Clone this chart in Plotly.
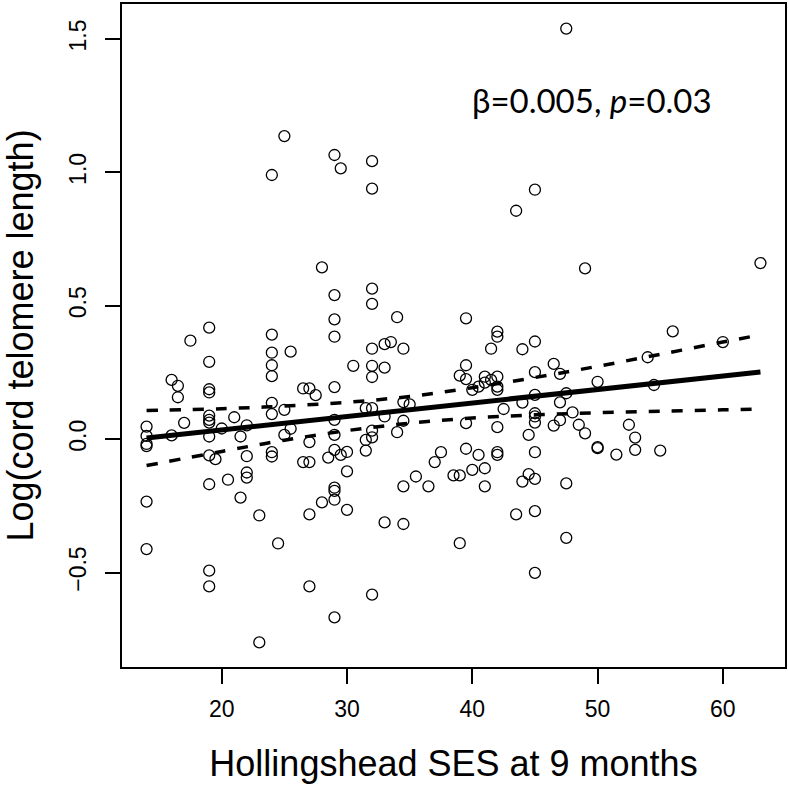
import plotly.graph_objects as go

# ---- data ----
ses = [
    14, 14, 14, 14, 14, 14,
    16, 16, 16.5, 16.5, 17, 17.5,
    19, 19, 19, 19, 19, 19, 19, 19, 19, 19, 19, 19,
    19.5, 20, 20.5, 21, 21.5, 21.5,
    22, 22, 22, 22, 23, 23,
    24, 24, 24, 24, 24, 24, 24, 24, 24,
    24.5, 25, 25, 25, 25.5, 25.5,
    26.5, 26.5, 27, 27, 27, 27, 27, 27.5,
    28, 28, 28.5,
    29, 29, 29, 29, 29, 29, 29, 29, 29, 29, 29, 29,
    29.5, 29.5, 30, 30, 30, 30.5,
    31.5, 31.5, 31.5,
    32, 32, 32, 32, 32, 32, 32, 32, 32, 32, 32,
    33, 33, 33, 33, 33.5, 34, 34,
    34.5, 34.5, 34.5, 34.5, 34.5, 35, 35.5, 36.5, 37, 37.5, 38.5,
    39, 39, 39,
    39.5, 39.5, 39.5, 39.5, 39.5,
    40, 40, 40.5, 40.5,
    41, 41, 41, 41, 41.5, 41.5,
    42, 42, 42, 42, 42, 42, 42, 42,
    42.5, 43.5, 43.5, 44, 44, 44, 44.5, 44.5,
    45, 45, 45, 45, 45, 45, 45, 45, 45, 45, 45,
    46.5, 46.5, 47, 47, 47,
    47.5, 47.5, 47.5, 47.5, 48, 48.5, 49, 49,
    50, 50, 50, 51.5, 52.5, 53, 53, 54, 54.5, 55, 56, 60, 63,
]
log_tl = [
    0.047, 0.012, -0.018, -0.026, -0.234, -0.412,
    0.222, 0.014, 0.200, 0.157, 0.061, 0.369,
    0.418, 0.290, 0.187, 0.175, 0.088, 0.072, 0.062, 0.010, -0.061, -0.169, -0.493, -0.552,
    -0.075, 0.040, -0.152, 0.082, 0.010, -0.219,
    0.052, -0.064, -0.125, -0.144, -0.286, -0.762,
    0.990, 0.392, 0.324, 0.277, 0.236, 0.136, 0.094, -0.049, -0.065,
    -0.391, 1.136, 0.110, 0.016, 0.328, 0.039,
    0.190, -0.086, 0.190, -0.011, -0.086, -0.282, -0.552, 0.165,
    0.644, -0.237, -0.069,
    1.065, 0.540, 0.449, 0.384, 0.195, 0.072, 0.016, -0.040, -0.182, -0.194, -0.227, -0.668,
    1.015, -0.059, -0.048, -0.121, -0.265, 0.275,
    0.116, -0.003, -0.043,
    1.042, 0.939, 0.564, 0.507, 0.339, 0.275, 0.233, 0.116, 0.032, 0.007, -0.583,
    0.356, 0.268, 0.085, -0.312, 0.364, 0.457, 0.026,
    0.339, 0.139, 0.069, -0.177, -0.318, 0.130, -0.140, -0.177, -0.086, -0.049, -0.136,
    0.238, -0.136, -0.390,
    0.453, 0.277, 0.225, 0.060, -0.036,
    0.185, -0.115, 0.197, -0.059,
    0.234, 0.212, -0.109, -0.177, 0.339, 0.222,
    0.403, 0.384, 0.234, 0.197, 0.185, 0.045, -0.049, -0.059,
    0.113, 0.856, -0.282, 0.337, 0.137, -0.159, 0.016, -0.131,
    0.935, 0.366, 0.251, 0.166, 0.097, 0.085, 0.062, -0.049, -0.149, -0.270, -0.501,
    0.282, 0.051, 0.245, 0.138, 0.071,
    1.539, 0.172, -0.166, -0.370, 0.100, 0.054, 0.640, 0.022,
    0.215, -0.030, -0.034, -0.058, 0.054, 0.006, -0.040, 0.307, 0.203, -0.043, 0.404, 0.364, 0.660,
]

# fitted line and 95% confidence band
fit_x = [14, 20, 25, 30, 35, 40, 45, 50, 55, 60, 63]
fit_y = [0.004, 0.034, 0.060, 0.085, 0.110, 0.136, 0.161, 0.186, 0.211, 0.237, 0.252]
ci_upper = [0.107, 0.114, 0.124, 0.138, 0.160, 0.193, 0.231, 0.273, 0.318, 0.364, 0.391]
ci_lower = [-0.099, -0.046, -0.004, 0.032, 0.060, 0.079, 0.091, 0.099, 0.105, 0.110, 0.113]

x_ticks = [20, 30, 40, 50, 60]
y_ticks = [-0.5, 0.0, 0.5, 1.0, 1.5]
y_tick_labels = ["\u22120.5", "0.0", "0.5", "1.0", "1.5"]

x_title = "Hollingshead SES at 9 months"
y_title = "Log(cord telomere length)"
stat_text = "\u03b2=0.005, <i>p</i>=0.03"

# R-style axis ranges (4% padding)
xs = max(ses) - min(ses)
ys = max(log_tl) - min(log_tl)
x_range = [min(ses) - 0.04 * xs, max(ses) + 0.04 * xs]
y_range = [min(log_tl) - 0.04 * ys, max(log_tl) + 0.04 * ys]

FONT = "Liberation Sans, Arial, sans-serif"

fig = go.Figure()
fig.add_trace(go.Scatter(
    x=ses, y=log_tl, mode="markers",
    marker=dict(symbol="circle-open", size=11, color="black", line=dict(width=1.3, color="black")),
    showlegend=False, hoverinfo="x+y",
))
for band in (ci_upper, ci_lower):
    fig.add_trace(go.Scatter(
        x=fit_x, y=band, mode="lines", line_shape="spline",
        line=dict(color="black", width=3.5, dash="11px,12px"),
        showlegend=False,
    ))
fig.add_trace(go.Scatter(
    x=fit_x, y=fit_y, mode="lines",
    line=dict(color="black", width=5),
    showlegend=False,
))

axis_common = dict(
    automargin=False,
    showgrid=False, zeroline=False, showline=True, mirror=True,
    linecolor="black", linewidth=2,
    ticks="outside", ticklen=15, tickwidth=2, tickcolor="black",
    tickfont=dict(family=FONT, size=23, color="black"),
)
fig.update_xaxes(
    range=x_range, tickvals=x_ticks, ticktext=[str(v) for v in x_ticks],
    title=dict(text=x_title, font=dict(family=FONT, size=36, color="black"), standoff=30),
    ticklabelstandoff=5,
    **axis_common,
)
fig.update_yaxes(
    range=y_range, tickvals=y_ticks, ticktext=y_tick_labels, tickangle=-90,
    title=dict(text=y_title, font=dict(family=FONT, size=36, color="black"), standoff=38),
    ticklabelstandoff=10,
    **axis_common,
)

fig.add_annotation(
    x=39.83, y=1.271, xref="x", yref="y", xanchor="left", yanchor="middle",
    text=stat_text, showarrow=False,
    font=dict(family="Lato, Carlito, sans-serif", size=33, color="black"),
)

fig.update_layout(
    width=789, height=788,
    margin=dict(l=122, r=4, t=4, b=121),
    paper_bgcolor="white", plot_bgcolor="white",
)

fig.write_html(
    "out.html",
    config={"displayModeBar": False},
    post_script="document.body.style.margin='0';",
)
